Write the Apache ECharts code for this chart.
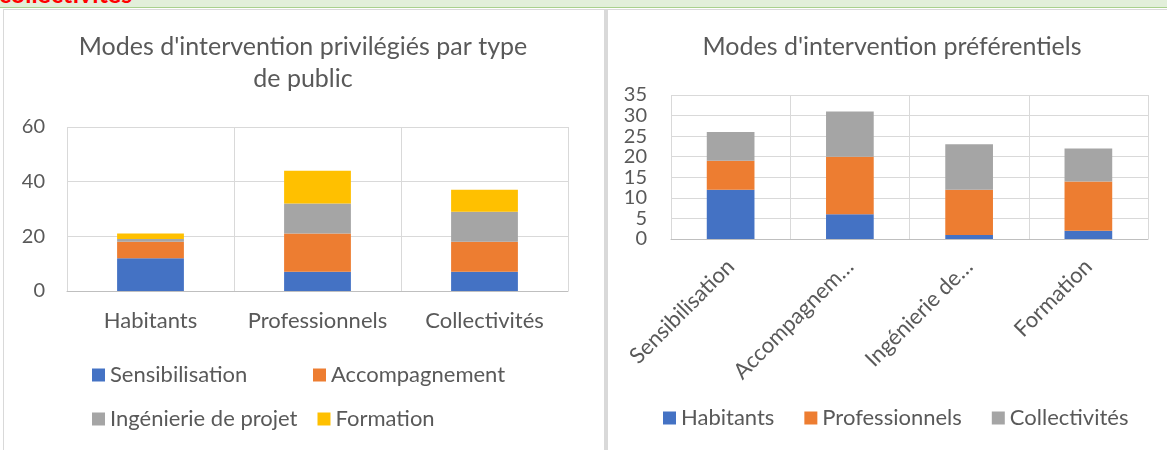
<!DOCTYPE html>
<html>
<head>
<meta charset="utf-8">
<script src="https://cdn.jsdelivr.net/npm/echarts@6/dist/echarts.min.js"></script>
<style>
  html, body { margin: 0; padding: 0; background: #fff; }
  #page { position: relative; width: 1167px; height: 450px; overflow: hidden; }
  #band { position: absolute; left: 0; top: 0; width: 1167px; height: 7px; background: #e2efda; border-bottom: 1px solid #a9d08e; overflow: hidden; }
  #band span { position: absolute; left: -1px; bottom: 1px; color: #ff0000; font: bold 25px Lato, sans-serif; line-height: 25px; }
  #topline { position: absolute; left: 3px; top: 9px; width: 1164px; height: 1px; background: #d9d9d9; }
  #leftline { position: absolute; left: 3px; top: 9px; width: 1px; height: 441px; background: #d9d9d9; }
  #sep { position: absolute; left: 604px; top: 9px; width: 4px; height: 441px; background: #d9d9d9; }
  #chart { position: absolute; left: 0; top: 0; width: 1167px; height: 450px; }
</style>
</head>
<body>
<div id="page">
  <div id="band"><span>collectivités</span></div>
  <div id="topline"></div>
  <div id="leftline"></div>
  <div id="sep"></div>
  <div id="chart"></div>
</div>
<script>
// graphique de gauche : par type de public
const publics = ['Habitants', 'Professionnels', 'Collectivités']
const sensibilisation = [12, 7, 7]
const accompagnement = [6, 14, 11]
const ingenierie = [1, 11, 11]
const formation = [2, 12, 8]

// graphique de droite : par mode d'intervention
const modes = ['Sensibilisation', 'Accompagnement', 'Ingénierie de projet', 'Formation']
const modeTickLabels = ['Sensibilisation', 'Accompagnem…', 'Ingénierie de…', 'Formation']
const habitants = [12, 6, 1, 2]
const professionnels = [7, 14, 11, 12]
const collectivites = [7, 11, 11, 8]

const textColor = '#595959'
const gridColor = '#d9d9d9'
const font = 'Lato, sans-serif'

const chart = echarts.init(document.getElementById('chart'))

const bar = (name, data, color, idx) => ({
  name,
  type: 'bar',
  stack: 'total' + idx,
  xAxisIndex: idx,
  yAxisIndex: idx,
  barWidth: '40%',
  itemStyle: { color },
  data
})

const catAxis = (gridIndex, data, label) => ({
  type: 'category',
  gridIndex,
  data,
  axisLine: { lineStyle: { color: '#bfbfbf', width: 1 } },
  axisTick: { show: false },
  splitLine: { show: true, lineStyle: { color: gridColor } },
  axisLabel: Object.assign({ color: textColor, fontSize: 22, fontFamily: font, interval: 0 }, label)
})

const valAxis = (gridIndex, max, interval, margin) => ({
  type: 'value',
  gridIndex,
  min: 0,
  max,
  interval,
  axisLine: { show: false },
  axisTick: { show: false },
  splitLine: { lineStyle: { color: gridColor } },
  axisLabel: { color: textColor, fontSize: 20, fontFamily: font, margin }
})

const option = {
  animation: false,
  textStyle: { fontFamily: font },
  title: [
    {
      text: "Modes d'intervention privilégiés par type\nde public",
      left: 298,
      top: 26,
      textAlign: 'center',
      textStyle: { color: textColor, fontSize: 25, fontWeight: 'normal', lineHeight: 32, fontFamily: font }
    },
    {
      text: "Modes d'intervention préférentiels",
      left: 887,
      top: 26,
      textAlign: 'center',
      textStyle: { color: textColor, fontSize: 25, fontWeight: 'normal', lineHeight: 32, fontFamily: font }
    }
  ],
  legend: [
    {
      data: ['Sensibilisation', 'Accompagnement', 'Ingénierie de projet', 'Formation'],
      left: 87,
      top: 358,
      width: 440,
      itemWidth: 13,
      itemHeight: 13,
      itemGap: 20,
      icon: 'rect',
      textStyle: { color: textColor, fontSize: 22, width: 183, lineHeight: 24, fontFamily: font }
    },
    {
      data: ['Habitants', 'Professionnels', 'Collectivités'],
      left: 658,
      top: 401,
      itemWidth: 13,
      itemHeight: 13,
      itemGap: 30,
      icon: 'rect',
      textStyle: { color: textColor, fontSize: 22, lineHeight: 24, fontFamily: font }
    }
  ],
  grid: [
    { left: 67, top: 127, width: 501, height: 164 },
    { left: 671, top: 95, width: 477, height: 144 }
  ],
  xAxis: [
    catAxis(0, publics, { margin: 19 }),
    catAxis(1, modes, { margin: 24, rotate: 45, formatter: (v, i) => modeTickLabels[i] })
  ],
  yAxis: [
    valAxis(0, 60, 20, 22),
    valAxis(1, 35, 5, 24)
  ],
  series: [
    bar('Sensibilisation', sensibilisation, '#4472c4', 0),
    bar('Accompagnement', accompagnement, '#ed7d31', 0),
    bar('Ingénierie de projet', ingenierie, '#a5a5a5', 0),
    bar('Formation', formation, '#ffc000', 0),
    bar('Habitants', habitants, '#4472c4', 1),
    bar('Professionnels', professionnels, '#ed7d31', 1),
    bar('Collectivités', collectivites, '#a5a5a5', 1)
  ]
}

chart.setOption(option)
</script>
</body>
</html>
